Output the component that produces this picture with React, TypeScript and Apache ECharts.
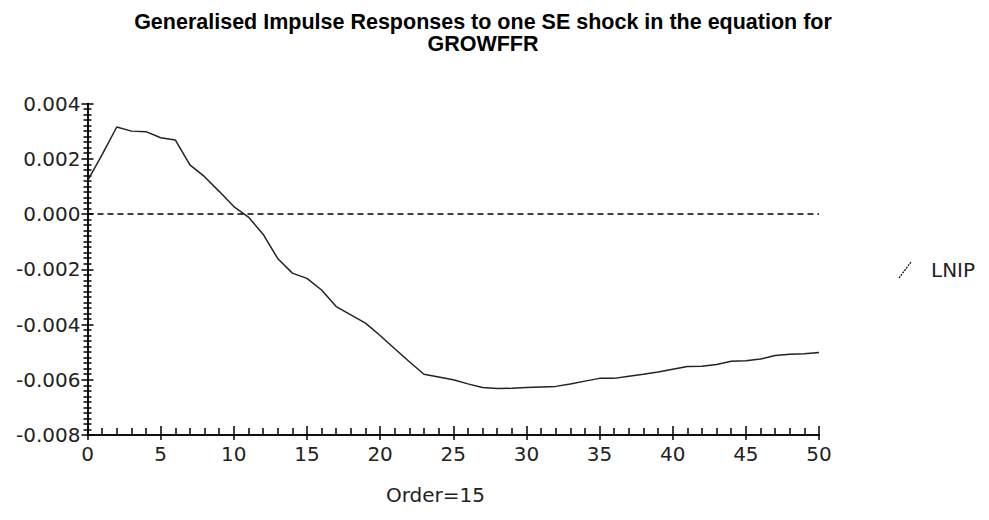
import React, { useEffect, useRef } from "react";
import * as echarts from "echarts";

const titleLines = ["Generalised Impulse Responses to one SE shock in the equation for", "GROWFFR"];
const seriesName = "LNIP";
const xLabel = "Order=15";
const horizons = Array.from({ length: 51 }, (_, i) => i);
const lnip = [
  0.0012, 0.00215, 0.00315, 0.003, 0.00298, 0.00276, 0.00268, 0.00178, 0.00135, 0.00082,
  0.00027, -0.00011, -0.00073, -0.00161, -0.00214, -0.00233, -0.00275, -0.00335, -0.00365, -0.00395,
  -0.0044, -0.00488, -0.00535, -0.0058, -0.0059, -0.006, -0.00615, -0.00628, -0.00632, -0.00631,
  -0.00628, -0.00626, -0.00624, -0.00615, -0.00605, -0.00595, -0.00595, -0.00587, -0.0058, -0.00572,
  -0.00562, -0.00552, -0.00551, -0.00545, -0.00533, -0.00531, -0.00525, -0.00512, -0.00508, -0.00506,
  -0.00501,
];
const yMin = -0.008;
const yMax = 0.004;
const yStep = 0.002;

export default function App() {
  const ref = useRef<HTMLDivElement>(null);
  useEffect(() => {
    if (!ref.current) return;
    const chart = echarts.init(ref.current, null, { renderer: "svg" });
    const font = "DejaVu Sans";
    const axisLine = { show: true, onZero: false, lineStyle: { color: "#000", width: 1.5 } };
    chart.setOption({
      animation: false,
      backgroundColor: "#fff",
      grid: { left: 87.5, right: 170, top: 103.5, bottom: 85, containLabel: false },
      xAxis: [
        {
          type: "value",
          min: 0,
          max: 50,
          interval: 5,
          axisLine,
          axisTick: { show: true, inside: true, length: 9, lineStyle: { color: "#000", width: 1.5 } },
          minorTick: { show: true, splitNumber: 5, length: 7, lineStyle: { color: "#000", width: 1.5 } },
          axisLabel: { color: "#222", fontFamily: font, fontSize: 20, margin: 9 },
          splitLine: { show: false },
        },
        {
          type: "value",
          position: "bottom",
          min: 0,
          max: 50,
          interval: 5,
          axisLine,
          axisTick: { show: true, inside: false, length: 5, lineStyle: { color: "#000", width: 1.5 } },
          axisLabel: { show: false },
          splitLine: { show: false },
        },
      ],
      yAxis: [
        {
          type: "value",
          min: yMin,
          max: yMax,
          interval: yStep,
          axisLine,
          axisTick: { show: true, inside: false, length: 6, lineStyle: { color: "#000", width: 1.5 } },
          minorTick: { show: true, splitNumber: 10, length: 4, lineStyle: { color: "#000", width: 1.5 } },
          axisLabel: {
            color: "#222",
            fontFamily: font,
            fontSize: 20,
            margin: 7,
            formatter: (v: number) => v.toFixed(3),
          },
          splitLine: { show: false },
        },
        {
          type: "value",
          position: "left",
          min: yMin,
          max: yMax,
          interval: yStep,
          axisLine,
          axisTick: { show: true, inside: true, length: 6, lineStyle: { color: "#000", width: 1.5 } },
          minorTick: { show: true, splitNumber: 10, length: 4, lineStyle: { color: "#000", width: 1.5 } },
          axisLabel: { show: false },
          splitLine: { show: false },
        },
      ],
      title: {
        text: titleLines.join("\n"),
        left: 478,
        textAlign: "center",
        top: 6,
        textStyle: { fontFamily: "Liberation Sans", fontWeight: "bold", fontSize: 21.5, lineHeight: 22, color: "#000" },
      },
      graphic: [
        {
          type: "line",
          shape: { x1: 899, y1: 278, x2: 911, y2: 262 },
          style: { stroke: "#000", lineWidth: 1.2, lineDash: [2, 1] },
        },
        {
          type: "text",
          x: 931,
          y: 270,
          style: { text: seriesName, font: `20px ${font}`, fill: "#222", verticalAlign: "middle" },
        },
        {
          type: "text",
          x: 386,
          y: 495,
          style: { text: xLabel, font: `20px ${font}`, fill: "#222", verticalAlign: "middle" },
        },
      ],
      series: [
        {
          name: seriesName,
          type: "line",
          data: horizons.map((h, i) => [h, lnip[i]]),
          showSymbol: false,
          lineStyle: { color: "#222", width: 1.5 },
          markLine: {
            silent: true,
            symbol: "none",
            label: { show: false },
            lineStyle: { color: "#000", type: [6, 4], width: 1.5 },
            data: [{ yAxis: 0 }],
          },
        },
      ],
    });
    return () => chart.dispose();
  }, []);
  return <div ref={ref} style={{ width: 989, height: 520, position: "absolute", left: 0, top: 0 }} />;
}
